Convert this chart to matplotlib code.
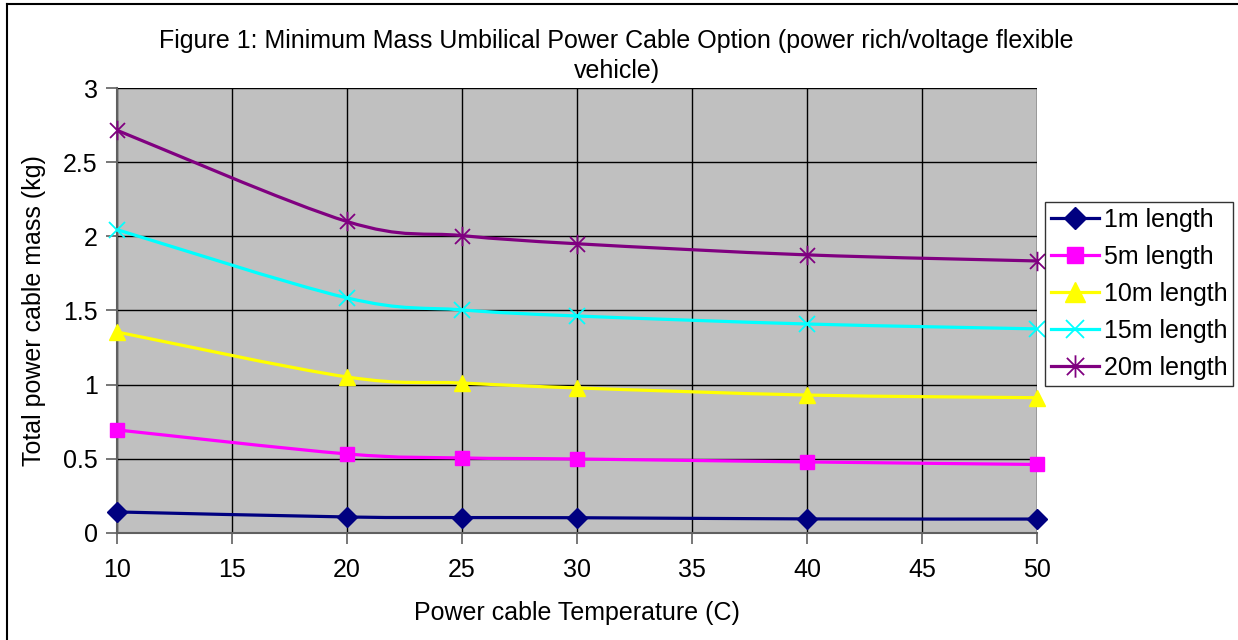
import numpy as np
import matplotlib
matplotlib.use("Agg")
import matplotlib.pyplot as plt
from matplotlib.path import Path
from matplotlib.patches import PathPatch
from matplotlib.lines import Line2D

plt.rcParams['font.family'] = ['Liberation Sans', 'DejaVu Sans']

# Cable temperature (C) and total mass (kg) for each cable length
temps = [10, 20, 25, 30, 40, 50]
mass_1m = [0.142, 0.108, 0.104, 0.103, 0.095, 0.094]
mass_5m = [0.695, 0.533, 0.506, 0.499, 0.479, 0.462]
mass_10m = [1.355, 1.052, 1.011, 0.978, 0.930, 0.912]
mass_15m = [2.045, 1.585, 1.504, 1.463, 1.409, 1.376]
mass_20m = [2.715, 2.100, 2.005, 1.950, 1.875, 1.834]
labels = ['1m length', '5m length', '10m length', '15m length', '20m length']

# asterisk marker: an x with a vertical stroke through it
star_path = Path(
    [(-1, -1), (1, 1), (-1, 1), (1, -1), (0, -1.3), (0, 1.3)],
    [Path.MOVETO, Path.LINETO, Path.MOVETO, Path.LINETO, Path.MOVETO, Path.LINETO])

styles = [
    dict(color='#000080', marker='D', ms=10),
    dict(color='#FF00FF', marker='s', ms=10),
    dict(color='#FFFF00', marker='^', ms=12),
    dict(color='#00FFFF', marker='x', ms=11, mew=1.3),
    dict(color='#800080', marker=star_path, ms=14, mew=1.3),
]


def smooth_path(x, y):
    # Catmull-Rom style bezier segments through the data points
    x = np.asarray(x, float)
    y = np.asarray(y, float)
    pts = np.column_stack([x, y])
    n = len(pts)
    verts = [pts[0]]
    codes = [Path.MOVETO]
    for i in range(n - 1):
        p0 = pts[i - 1] if i > 0 else pts[i]
        p1 = pts[i]
        p2 = pts[i + 1]
        p3 = pts[i + 2] if i + 2 < n else pts[i + 1]
        c1 = p1 + (p2 - p0) / 6.0
        c2 = p2 - (p3 - p1) / 6.0
        verts += [c1, c2, p2]
        codes += [Path.CURVE4] * 3
    return Path(verts, codes)


fig = plt.figure(figsize=(12.38, 6.4), dpi=100)
ax = fig.add_axes([0.0945, 0.1672, 0.7431, 0.6953])
ax.set_facecolor('#C0C0C0')

series = [mass_1m, mass_5m, mass_10m, mass_15m, mass_20m]
handles = []
for vals, st, lab in zip(series, styles, labels):
    ax.add_patch(PathPatch(smooth_path(temps, vals), facecolor='none',
                           edgecolor=st['color'], lw=2.3, zorder=3))
    ax.plot(temps, vals, ls='none', marker=st['marker'], ms=st['ms'],
            color=st['color'], mec=st['color'], mew=st.get('mew', 1.0),
            zorder=4, clip_on=False)
    handles.append(Line2D([], [], color=st['color'], lw=2.3,
                          marker=st['marker'], ms=st['ms'] * 1.15, mec=st['color'],
                          mew=st.get('mew', 1.0), label=lab))

ax.set_xlim(10, 50)
ax.set_ylim(0, 3)
ax.set_xticks(np.arange(10, 51, 5))
ax.set_yticks([0, 0.5, 1, 1.5, 2, 2.5, 3])
ax.set_yticklabels(['0', '0.5', '1', '1.5', '2', '2.5', '3'])
ax.grid(True, color='black', lw=1.0)
ax.set_axisbelow(True)
for s in ['top', 'right']:
    ax.spines[s].set_visible(False)
for s in ['left', 'bottom']:
    ax.spines[s].set_color('#606060')
    ax.spines[s].set_linewidth(1.5)
ax.tick_params(direction='out', length=8, width=1.2, color='#606060',
               labelsize=18, pad=6)
ax.tick_params(axis='x', pad=10)

ax.set_xlabel('Power cable Temperature (C)', fontsize=18, labelpad=14)
ax.set_ylabel('Total power cable mass (kg)', fontsize=18, labelpad=12)

fig.text(0.498, 0.954, 'Figure 1: Minimum Mass Umbilical Power Cable Option (power rich/voltage flexible\nvehicle)',
         ha='center', va='top', fontsize=18, linespacing=1.3)

leg = fig.legend(handles=handles, loc='upper left', bbox_to_anchor=(0.844, 0.685),
                 borderaxespad=0, fontsize=18, frameon=True, fancybox=False,
                 edgecolor='black', handlelength=1.9, handletextpad=0.2,
                 labelspacing=0.52, borderpad=0.25)
leg.get_frame().set_linewidth(1.0)

# chart border along the top and left edges
fig.add_artist(Line2D([0.0057, 1.0], [0.993, 0.993], transform=fig.transFigure,
                      color='black', lw=1.5))
fig.add_artist(Line2D([0.0057, 0.0057], [0.0, 0.993], transform=fig.transFigure,
                      color='black', lw=1.5))

fig.savefig('out.png', dpi=100)
